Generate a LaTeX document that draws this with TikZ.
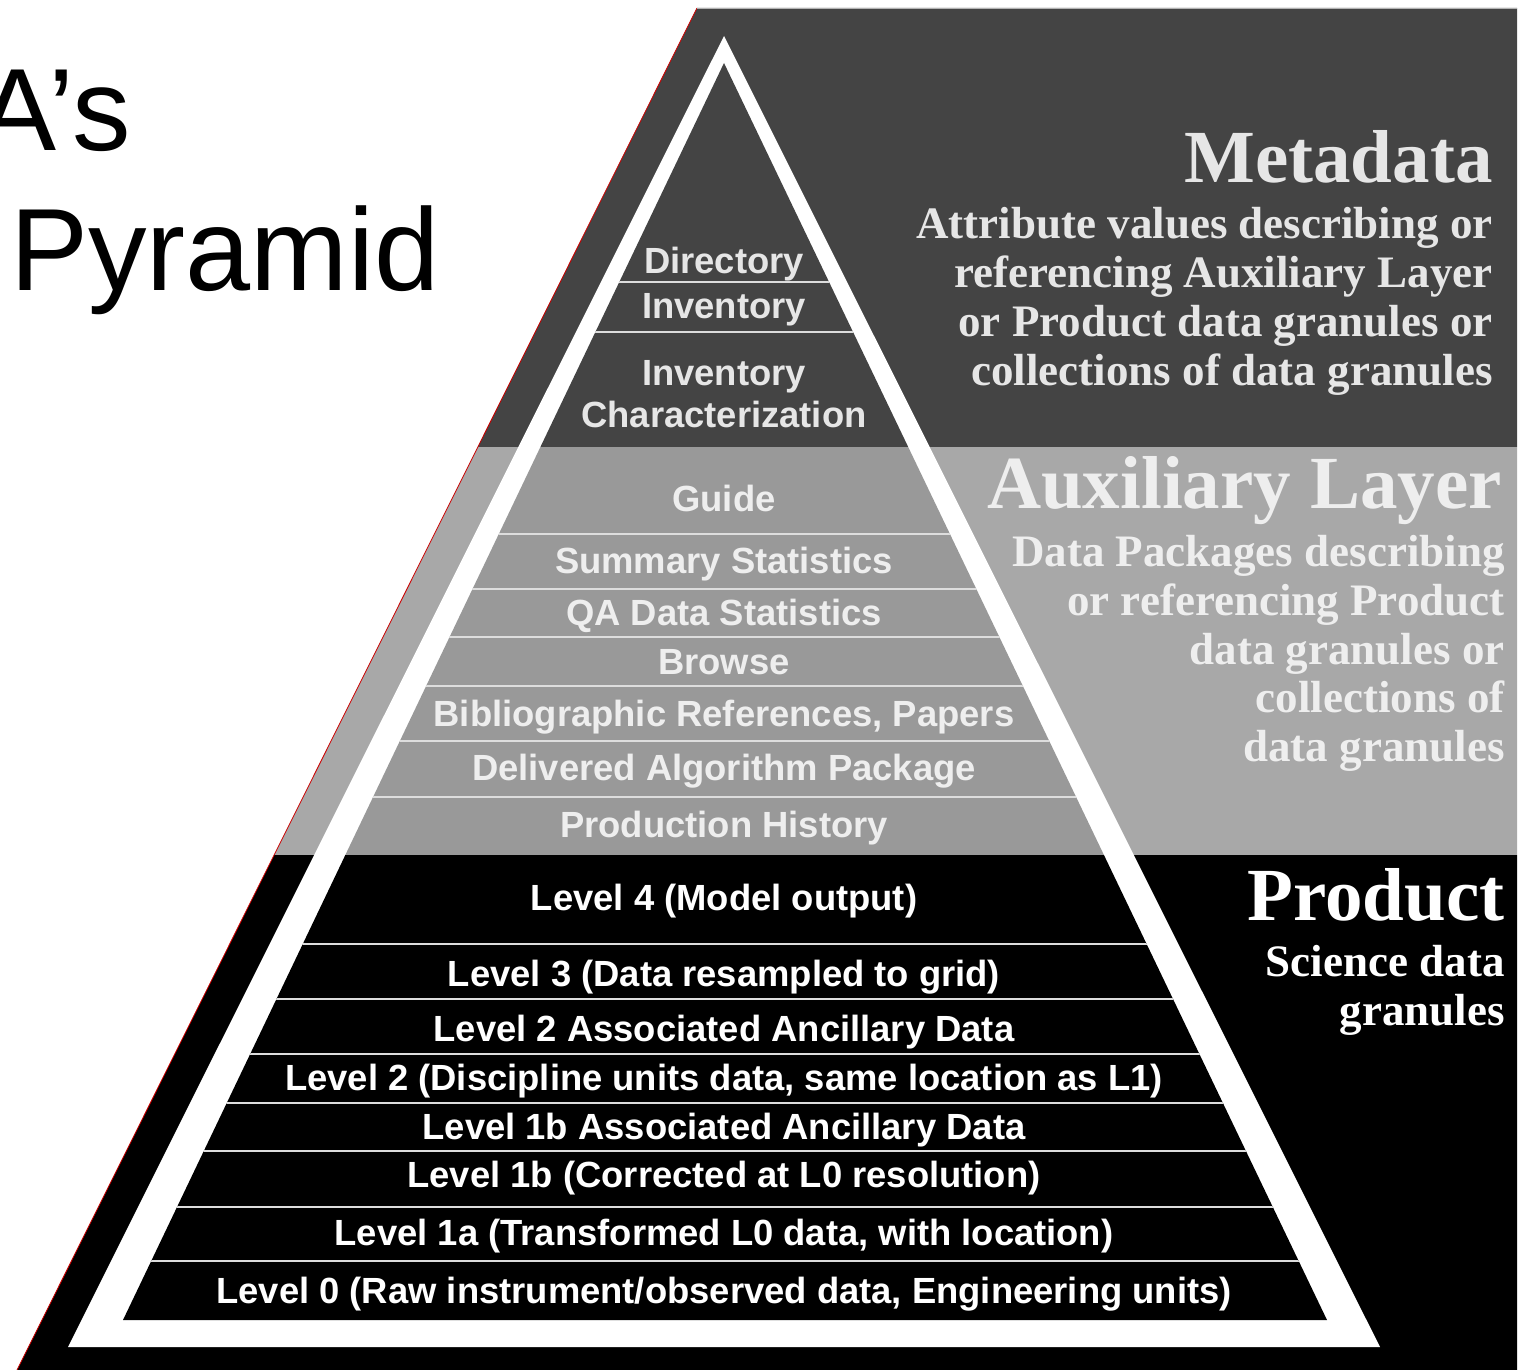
\documentclass[tikz,border=0pt]{standalone}
\usepackage{fontspec}
\setmainfont{Liberation Serif}
\newfontfamily\sansf{Liberation Sans}
\definecolor{dkg}{HTML}{444444}
\definecolor{lgo}{HTML}{A8A8A8}
\definecolor{lgi}{HTML}{999999}
\definecolor{txm}{HTML}{E6E6E6}
\definecolor{txa}{HTML}{EEEEEE}
\definecolor{sepc}{HTML}{DDDDDD}
\begin{document}
\begin{tikzpicture}[x=0.5pt,y=-0.5pt,
  plab/.style={font=\sansf\bfseries\fontsize{18.2}{20}\selectfont, inner sep=0pt, anchor=base},
  shead/.style={font=\bfseries\fontsize{37.5}{40}\selectfont, inner sep=0pt, anchor=base east},
  sbody/.style={font=\bfseries\fontsize{22.5}{24}\selectfont, inner sep=0pt, anchor=base east},
  ttl/.style={font=\sansf\fontsize{58.5}{60}\selectfont, inner sep=0pt, text=black},
  sepl/.style={draw=sepc, line width=1.4pt}]
\useasboundingbox (0,0) rectangle (1520,1370);
% background trapezoid
\begin{scope}
  \clip (697,8) -- (1517,8) -- (1517,1370) -- (17,1370) -- cycle;
  \fill[dkg] (0,0) rectangle (1520,447);
  \fill[lgo] (0,447) rectangle (1520,855);
  \fill[black] (0,855) rectangle (1520,1370);
\end{scope}
\draw[red!80!black, line width=0.4pt] (697,8) -- (17,1370);
\draw[gray!60, line width=0.4pt] (697,8) -- (1517,8);
% white pyramid outline
\fill[white] (724,36) -- (1380,1347) -- (68,1347) -- cycle;
% inner bands
\begin{scope}
  \clip (724,63) -- (1327,1320) -- (123,1320) -- cycle;
  \fill[dkg] (0,0) rectangle (1520,447);
  \fill[lgi] (0,447) rectangle (1520,855);
  \fill[black] (0,855) rectangle (1520,1370);
  \foreach \yy in {282,332,534,589,637,686,741,797,944,999,1054,1103,1151,1207,1261}
    \draw[sepl] (0,\yy) -- (1520,\yy);
\end{scope}
% title
\node[ttl, anchor=base east] (tA) at (131,150) {A’s};
\node[ttl, anchor=base west] (tP) at (10,290) {Pyramid};
% pyramid labels
\begin{scope}[every node/.append style={text=txm}]
\node[plab] (dir) at (724,273) {Directory};
\node[plab] (inv) at (724,318) {Inventory};
\node[plab] (ic1) at (724,385) {Inventory};
\node[plab] (ic2) at (724,427) {Characterization};
\end{scope}
\begin{scope}[every node/.append style={text=txa}]
\node[plab] (gd) at (724,511) {Guide};
\node[plab] (ss) at (724,573) {Summary Statistics};
\node[plab] (qa) at (724,625) {QA Data Statistics};
\node[plab] (br) at (724,674) {Browse};
\node[plab] (bib) at (724,726) {Bibliographic References, Papers};
\node[plab] (dap) at (724,780) {Delivered Algorithm Package};
\node[plab] (ph) at (724,837) {Production History};
\end{scope}
\begin{scope}[every node/.append style={text=white}]
\node[plab] (l4) at (724,910) {Level 4 (Model output)};
\node[plab] (l3) at (724,986) {Level 3 (Data resampled to grid)};
\node[plab] (l2a) at (724,1041) {Level 2 Associated Ancillary Data};
\node[plab] (l2) at (724,1090) {Level 2 (Discipline units data, same location as L1)};
\node[plab] (l1ba) at (724,1139) {Level 1b Associated Ancillary Data};
\node[plab] (l1b) at (724,1187) {Level 1b (Corrected at L0 resolution)};
\node[plab] (l1a) at (724,1245) {Level 1a (Transformed L0 data, with location)};
\node[plab] (l0) at (724,1303) {Level 0 (Raw instrument/observed data, Engineering units)};
\end{scope}
% right side descriptions
\node[shead, text=txm] (mh) at (1493,182) {Metadata};
\node[sbody, text=txm] (m1) at (1493,238) {Attribute values describing or};
\node[sbody, text=txm] (m2) at (1493,287) {referencing Auxiliary Layer};
\node[sbody, text=txm] (m3) at (1493,336) {or Product data granules or};
\node[sbody, text=txm] (m4) at (1493,385) {collections of data granules};
\node[shead, text=txa] (ah) at (1502,508) {Auxiliary Layer};
\node[sbody, text=txa] (a1) at (1505,566) {Data Packages describing};
\node[sbody, text=txa] (a2) at (1505,615) {or referencing Product};
\node[sbody, text=txa] (a3) at (1505,664) {data granules or};
\node[sbody, text=txa] (a4) at (1505,712) {collections of};
\node[sbody, text=txa] (a5) at (1505,761) {data granules};
\node[shead, text=white] (ph2) at (1505,920) {Product};
\node[sbody, text=white] (p1) at (1505,976) {Science data};
\node[sbody, text=white] (p2) at (1505,1025) {granules};
\end{tikzpicture}
\end{document}
